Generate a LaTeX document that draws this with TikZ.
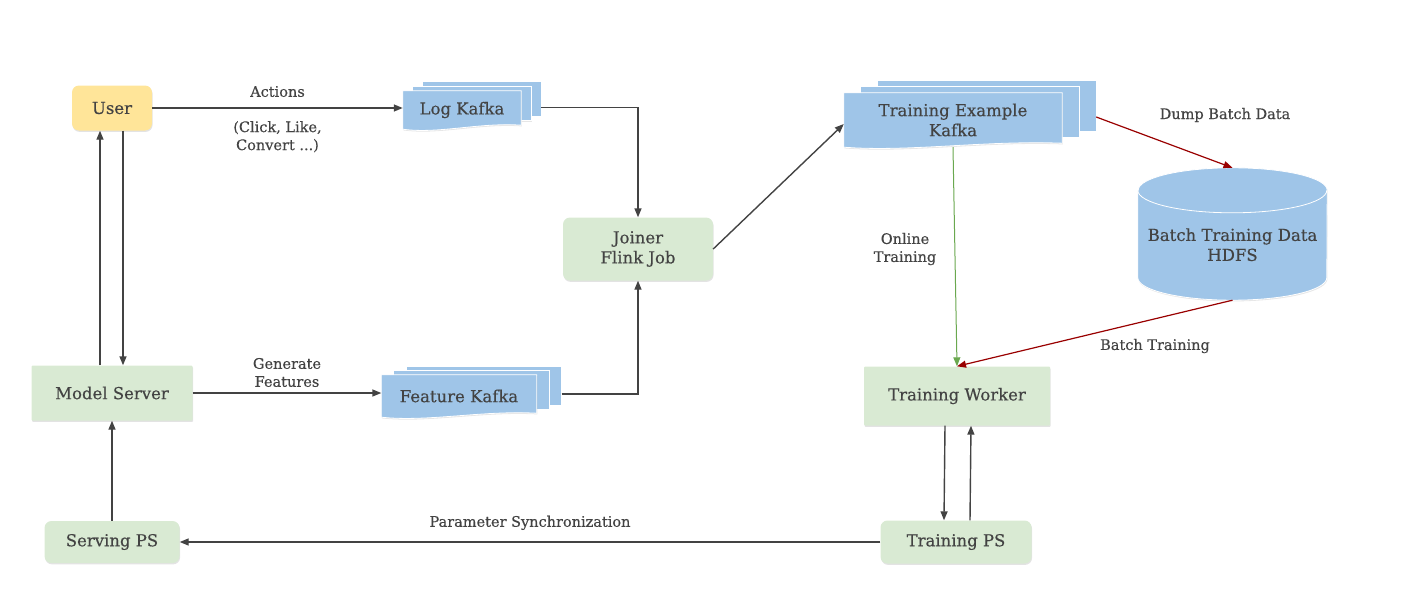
\documentclass[tikz,border=0pt]{standalone}
\usepackage{fontspec}
\setmainfont{DejaVu Serif}[FakeBold=0.4]
\usetikzlibrary{positioning}
\usetikzlibrary{arrows.meta, calc, backgrounds, shadows}

\definecolor{usery}{HTML}{FFE599}
\definecolor{boxg}{HTML}{D9EAD3}
\definecolor{kafkab}{HTML}{9FC5E8}
\definecolor{inkgray}{HTML}{434343}
\definecolor{batchred}{HTML}{990000}
\definecolor{onlineg}{HTML}{6AA84F}

\newcommand{\kafkastack}[3]{%
\begin{pgfonlayer}{background}
\foreach \k in {2,1} {
\draw[kafkapage] ($(#1.north west)+(\k*#2,-\k*#3)$) rectangle ($(#1.south east)+(\k*#2,-4-\k*#3)$);
}
\draw[kafkapage] (#1.north west) -- (#1.north east) -- ($(#1.south east)+(0,-4)$) .. controls ($(#1.south west)!0.65!(#1.south east)+(0,-7)$) and ($(#1.south west)!0.3!(#1.south east)+(0,5)$) .. (#1.south west) -- cycle;
\end{pgfonlayer}
\coordinate (#1-back) at ($(#1.east)+(2*#2,-#3/2)$);
}

\begin{document}
\begin{tikzpicture}[x=1pt,y=-1pt,
font=\fontsize{16.5}{20}\selectfont,text=inkgray,
box/.style={fill=boxg,align=center,rounded corners=1pt,drop shadow={opacity=0.22,shadow xshift=0.6pt,shadow yshift=-1.4pt}},
roundbox/.style={box,rounded corners=7pt},
kafkafront/.style={align=center,inner sep=0pt},
kafkapage/.style={fill=kafkab,draw=white,line width=0.8pt,drop shadow={opacity=0.2,shadow xshift=0.6pt,shadow yshift=-1.2pt}},
hdfsbox/.style={align=center,inner sep=0pt,minimum width=189pt,minimum height=132pt},
link/.style={draw=inkgray,line width=1.4pt,-{Triangle[length=9pt,width=7pt]}},
lbl/.style={font=\fontsize{14.5}{18}\selectfont,align=center}]
\useasboundingbox (0,0) rectangle (1417,597);

\node[roundbox,fill=usery,minimum width=80pt,minimum height=45pt] (user) at (112,108) {User};
\node[box,minimum width=161pt,minimum height=55pt] (modelsrv) at (112,393) {Model Server};
\node[roundbox,minimum width=135pt,minimum height=42pt] (servps) at (112,542) {Serving PS};
\node[roundbox,minimum width=150pt,minimum height=63pt] (joiner) at (638,249) {Joiner\\Flink Job};
\node[box,minimum width=186pt,minimum height=59pt] (worker) at (957,396) {Training Worker};
\node[roundbox,minimum width=151pt,minimum height=43pt] (trainps) at (956,542) {Training PS};

\node[kafkafront,minimum width=118pt,minimum height=38pt] (logk) at (462,110) {Log Kafka};
\kafkastack{logk}{10}{4.5}
\node[kafkafront,minimum width=155pt,minimum height=42pt] (featk) at (459,396) {Feature Kafka};
\kafkastack{featk}{12.5}{4}
\node[kafkafront,minimum width=218pt,minimum height=54pt] (tek) at (953,120) {Training Example\\Kafka};
\kafkastack{tek}{17}{6}

\node[hdfsbox] (hdfs) at (1232.5,234) {\rule{0pt}{34pt}Batch Training Data\\HDFS};
\begin{pgfonlayer}{background}
\draw[kafkapage] ($(hdfs.north west)+(0,22.5)$) -- ($(hdfs.south west)+(0,-22.5)$) arc[start angle=180,end angle=360,x radius=94.5pt,y radius=22.5pt] -- ($(hdfs.north east)+(0,22.5)$) arc[start angle=0,end angle=180,x radius=94.5pt,y radius=22.5pt] -- cycle;
\draw[white,line width=0.8pt] ($(hdfs.north west)+(0,22.5)$) arc[start angle=180,end angle=360,x radius=94.5pt,y radius=22.5pt];
\end{pgfonlayer}

\draw[link] (user.east) -- node[lbl,above=7pt] (actlbl) {Actions} node[lbl,below=9pt] (clicklbl) {(Click, Like,\\Convert ...)} (user.east -| logk.west);
\draw[link] (modelsrv.east) -- node[lbl,above=2pt] (genlbl) {Generate\\Features} (modelsrv.east -| featk.west);
\draw[link] (logk-back) -| (joiner.north);
\draw[link] (featk-back) -| (joiner.south);
\draw[link] (joiner.east) -- ([yshift=-4pt]tek.west);
\draw[link,draw=batchred,line width=1.2pt] (tek-back) -- (hdfs.north);
\draw[link,draw=batchred,line width=1.2pt] (hdfs.south) -- (worker.north);
\draw[link,draw=onlineg,line width=1pt] (tek.south) -- (worker.north);
\draw[link] ([xshift=-12pt]worker.south) -- ([xshift=-12pt]trainps.north);
\draw[link] ([xshift=14pt]trainps.north) -- ([xshift=14pt]worker.south);
\draw[link] (trainps.west) -- node[lbl,above=8pt] (synclbl) {Parameter Synchronization} (servps.east);
\draw[link] (servps.north) -- (modelsrv.south);
\draw[link] ([xshift=-12pt]modelsrv.north) -- ([xshift=-12pt]user.south);
\draw[link] ([xshift=11pt]user.south) -- ([xshift=11pt]modelsrv.north);

\node[lbl] (onlinelbl) at (905,249) {Online\\Training};
\node[lbl] (dumplbl) at (1225,115) {Dump Batch Data};
\node[lbl] (batchlbl) at (1155,346) {Batch Training};

\end{tikzpicture}
\end{document}
